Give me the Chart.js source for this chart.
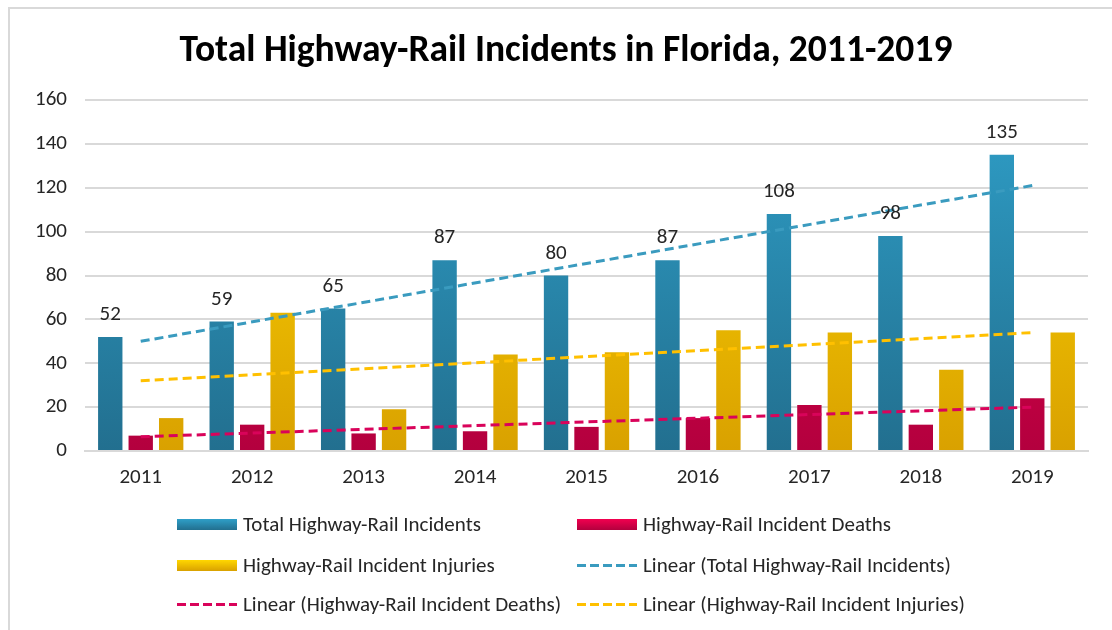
<!DOCTYPE html>
<html>
<head>
<meta charset="utf-8">
<script src="https://cdn.jsdelivr.net/npm/chart.js@4.4.1/dist/chart.umd.min.js"></script>
<style>
  html, body { margin: 0; padding: 0; background: #fff; }
  body { width: 1112px; height: 630px; position: relative; overflow: hidden; font-family: Carlito, "Liberation Sans", Arial, sans-serif; }
  .frame { position: absolute; left: 8px; top: 7px; width: 1200px; height: 700px; border: 2px solid #d9d9d9; box-sizing: border-box; }
  #chart { position: absolute; left: 0; top: 0; }
  .legend-item { position: absolute; display: flex; align-items: center; font-size: 21px; color: #262626; white-space: nowrap; }
  .swatch { width: 60px; height: 11px; margin-right: 6px; }
  .dash { width: 60px; height: 3px; margin-right: 6px; }
</style>
</head>
<body>
<div class="frame"></div>
<canvas id="chart" width="1112" height="630"></canvas>
<div id="legend"></div>

<script>
// values
const years = ['2011', '2012', '2013', '2014', '2015', '2016', '2017', '2018', '2019'];
const totalIncidents = [52, 59, 65, 87, 80, 87, 108, 98, 135];
const incidentDeaths = [7, 12, 8, 9, 11, 15, 21, 12, 24];
const incidentInjuries = [15, 63, 19, 44, 45, 55, 54, 37, 54];

// trend line end points (2011 and 2019), as drawn in the picture
const totalTrend = [50, null, null, null, null, null, null, null, 121];
const deathsTrend = [6.5, null, null, null, null, null, null, null, 20];
const injuriesTrend = [32, null, null, null, null, null, null, null, 54];

const yTicks = [0, 20, 40, 60, 80, 100, 120, 140, 160];

const TITLE = 'Total Highway-Rail Incidents in Florida, 2011-2019';
const FONT = 'Carlito, "Liberation Sans", Arial, sans-serif';

const colors = {
  blue: ['#2f9fc8', '#226f8f'],
  red: ['#f2004f', '#b3003e'],
  yellow: ['#ffd700', '#d9a100'],
  blueLine: '#3a9bbf',
  redLine: '#d9035a',
  yellowLine: '#ffc000'
};

function gradient(pair) {
  return (ctx) => {
    const chart = ctx.chart;
    const area = chart.chartArea;
    if (!area) return pair[0];
    const bar = ctx.element;
    const top = bar && bar.y != null ? bar.y : area.top;
    const bottom = area.bottom;
    if (bottom - top < 1) return pair[0];
    const g = chart.ctx.createLinearGradient(0, top, 0, bottom);
    g.addColorStop(0, pair[0]);
    g.addColorStop(1, pair[1]);
    return g;
  };
}

// total values above the blue bars + the title (centred on the framed box, not the canvas)
const valueLabels = {
  id: 'valueLabels',
  afterDatasetsDraw(chart) {
    const ctx = chart.ctx;
    const meta = chart.getDatasetMeta(3);
    ctx.save();
    ctx.font = '21px ' + FONT;
    ctx.fillStyle = '#262626';
    ctx.textAlign = 'center';
    ctx.textBaseline = 'middle';
    meta.data.forEach((bar, i) => {
      ctx.fillText(String(totalIncidents[i]), bar.x, bar.y - 22);
    });
    ctx.font = 'bold 37.5px ' + FONT;
    ctx.fillStyle = '#000';
    ctx.textBaseline = 'alphabetic';
    ctx.fillText(TITLE, 566, 61);
    ctx.restore();
  }
};

const trendStyle = {
  type: 'line',
  borderWidth: 3,
  borderDash: [9, 5],
  pointRadius: 0,
  fill: false,
  spanGaps: true,
  order: 0
};

new Chart(document.getElementById('chart'), {
  type: 'bar',
  data: {
    labels: years,
    datasets: [
      { ...trendStyle, label: 'Linear (Total Highway-Rail Incidents)', data: totalTrend, borderColor: colors.blueLine },
      { ...trendStyle, label: 'Linear (Highway-Rail Incident Deaths)', data: deathsTrend, borderColor: colors.redLine },
      { ...trendStyle, label: 'Linear (Highway-Rail Incident Injuries)', data: injuriesTrend, borderColor: colors.yellowLine },
      { label: 'Total Highway-Rail Incidents', data: totalIncidents, backgroundColor: gradient(colors.blue), order: 1 },
      { label: 'Highway-Rail Incident Deaths', data: incidentDeaths, backgroundColor: gradient(colors.red), order: 1 },
      { label: 'Highway-Rail Incident Injuries', data: incidentInjuries, backgroundColor: gradient(colors.yellow), order: 1 }
    ]
  },
  options: {
    responsive: false,
    animation: false,
    datasets: { bar: { barPercentage: 0.8, categoryPercentage: 0.82 } },
    layout: { padding: { left: 0, right: 24, top: 100, bottom: 0 } },
    plugins: {
      legend: { display: false },
      tooltip: { enabled: false },
      title: { display: false }
    },
    scales: {
      x: {
        grid: { display: false, drawTicks: false },
        border: { display: true, color: '#d9d9d9', width: 2 },
        ticks: { color: '#262626', padding: 14, font: { family: FONT, size: 21 } },
        afterFit: (s) => { s.height = 630 - 451; }
      },
      y: {
        min: 0,
        max: 160,
        afterBuildTicks: (s) => { s.ticks = yTicks.map(v => ({ value: v })); },
        grid: { color: '#d9d9d9', lineWidth: 2, drawTicks: false },
        border: { display: false },
        ticks: { color: '#262626', padding: 18, font: { family: FONT, size: 21 } },
        afterFit: (s) => { s.width = 85; }
      }
    }
  },
  plugins: [valueLabels]
});

// legend, laid out in two columns like the reference
const legendItems = [
  { text: 'Total Highway-Rail Incidents', kind: 'bar', c: colors.blue, x: 177, y: 524 },
  { text: 'Highway-Rail Incident Deaths', kind: 'bar', c: colors.red, x: 577, y: 524 },
  { text: 'Highway-Rail Incident Injuries', kind: 'bar', c: colors.yellow, x: 177, y: 565 },
  { text: 'Linear (Total Highway-Rail Incidents)', kind: 'line', c: colors.blueLine, x: 577, y: 565 },
  { text: 'Linear (Highway-Rail Incident Deaths)', kind: 'line', c: colors.redLine, x: 177, y: 604 },
  { text: 'Linear (Highway-Rail Incident Injuries)', kind: 'line', c: colors.yellowLine, x: 577, y: 604 }
];
const legend = document.getElementById('legend');
legend.innerHTML = legendItems.map(it => {
  const mark = it.kind === 'bar'
    ? `<span class="swatch" style="background:linear-gradient(${it.c[0]},${it.c[1]})"></span>`
    : `<span class="dash" style="background:repeating-linear-gradient(90deg,${it.c} 0 9px,transparent 9px 13px)"></span>`;
  return `<div class="legend-item" style="left:${it.x}px;top:${it.y - 13}px;height:26px">${mark}${it.text}</div>`;
}).join('');
</script>
</body>
</html>
